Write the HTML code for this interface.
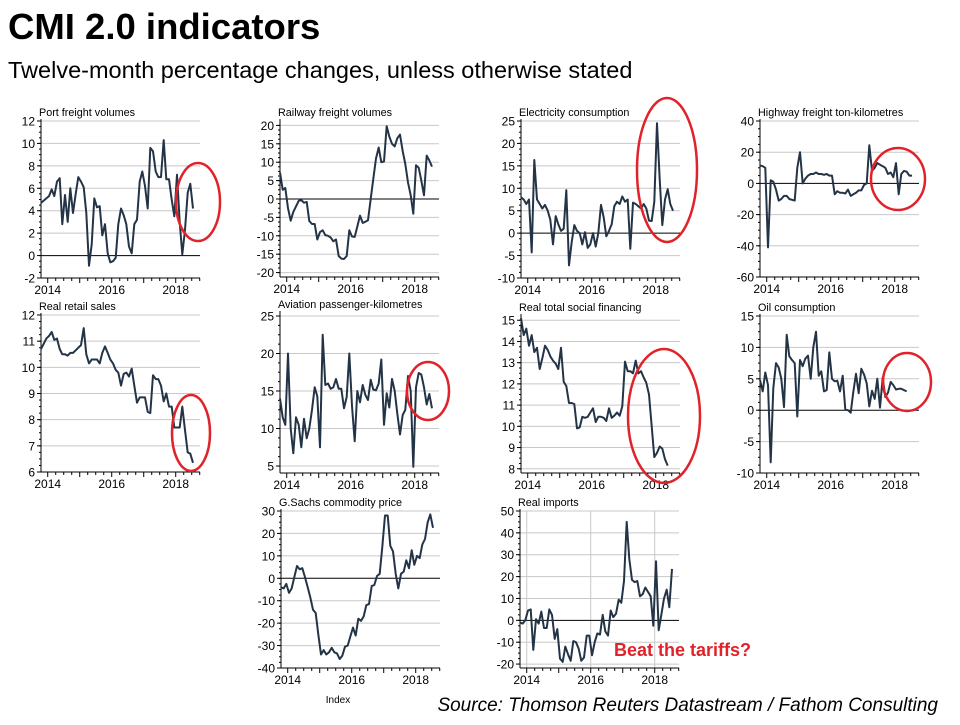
<!DOCTYPE html>
<html><head><meta charset="utf-8"><style>
body{margin:0;background:#fff;}
svg text{font-family:"Liberation Sans",sans-serif;}
</style></head><body>
<svg id="c" width="960" height="720" viewBox="0 0 960 720" xmlns="http://www.w3.org/2000/svg">
<text x="8" y="39" font-size="36.5" font-weight="bold" fill="#000">CMI 2.0 indicators</text>
<text x="8" y="78" font-size="23.5" fill="#000">Twelve-month percentage changes, unless otherwise stated</text>
<text x="938" y="711" font-size="19" font-style="italic" text-anchor="end" fill="#000">Source: Thomson Reuters Datastream / Fathom Consulting</text>
<text x="614" y="656" font-size="18" font-weight="bold" fill="#e0232a">Beat the tariffs?</text>
<text x="338" y="703" font-size="10" text-anchor="middle" fill="#000">Index</text>
</svg>
<script>
const titles=["Port freight volumes","Railway freight volumes","Electricity consumption","Highway freight ton-kilometres","Real retail sales","Aviation passenger-kilometres","Real total social financing","Oil consumption","G.Sachs commodity price","Real imports"];
const yearTicks=[2014,2016,2018];
const port=[4.7,4.9,5.1,5.3,5.9,5.3,6.6,6.9,2.8,5.4,3.0,6.0,3.8,5.5,7.0,6.6,6.1,3.8,-0.9,1.0,5.1,4.3,4.4,1.8,2.8,0.2,-0.6,-0.5,-0.2,2.8,4.2,3.6,2.8,0.8,0.2,2.8,3.2,6.6,7.5,6.2,4.2,9.6,9.3,7.5,7.0,7.0,10.3,6.8,6.8,5.0,3.5,7.2,3.0,0.1,2.3,5.6,6.4,4.2];
const rail=[7.2,2.5,3.0,-2.5,-5.9,-3.5,-2.0,-0.5,-0.3,-1.0,-0.8,-6.0,-6.8,-6.8,-11.0,-9.0,-8.5,-9.8,-10.0,-10.5,-11.5,-11.0,-15.5,-16.2,-16.3,-15.5,-8.5,-10.2,-10.3,-7.5,-4.5,-6.5,-6.2,-5.8,0,5.5,11.0,14.0,10.0,10.2,19.8,17.0,15.0,14.3,16.5,17.5,13.0,9.5,4.5,1.0,-4.0,9.2,8.5,5.0,1.0,11.8,10.5,8.8];
const elec=[8,7.5,6.5,7.5,-4.3,16.3,7.5,6.5,5.5,6.3,5.0,3.0,-2.5,3.8,2.0,0.5,1.0,9.6,-7.2,-2.0,1.8,0.5,0.0,-2.5,0.2,-3.3,-2.5,0,-3.0,0,6.3,3.5,-0.7,0.5,2.0,6.0,7.0,6.5,8.2,7.0,7.5,-3.5,6.8,6.5,6.0,5.5,6.5,5.5,2.8,2.7,7.0,24.5,12.0,1.8,7.5,9.8,6.5,5.0];
const highway=[11.5,11.0,10.0,-41,2,1,-4,-11,-10,-8,-8,-10,-10.5,-11,10,20,0,3,5,6,6,7,6,6,5.5,6,5,5,-7,-5,-6,-6,-6.5,-4,-8,-7,-6,-4.5,-4.5,-1,0,24.5,8,10,13,12,11,10,6,7,4,13,-7,6,8,7.5,5,5];
const retail=[10.7,10.9,11.1,11.2,11.35,11.05,11.1,10.7,10.5,10.5,10.45,10.55,10.55,10.65,10.75,10.85,11.5,10.5,10.15,10.3,10.3,10.3,10.15,10.55,10.8,10.55,10.3,10.15,9.9,9.8,9.3,9.75,9.8,9.65,9.95,9.3,8.65,8.85,8.85,8.85,8.3,8.25,9.7,9.55,9.55,9.3,8.7,9.0,8.5,8.5,7.7,7.7,7.7,8.5,7.6,6.75,6.7,6.35];
const aviation=[14,11.5,10.5,20,10,6.7,11.5,10.5,7.5,11.3,8.7,10,12.5,15.5,14.3,7.5,22.5,15.8,16,15.3,15.5,16.6,15.3,15.3,12.7,14.2,20,13,8.3,15,13.5,15.8,14.5,13.8,16.5,15.2,15.1,16,19.2,10.5,14.7,12.8,16.6,15,12,9.2,11.8,12.5,17,15,4.9,15.5,17.4,17.2,15.5,13.2,14.6,12.7];
const tsf=[15.1,14.3,14.6,13.8,14.3,13.5,13.7,12.7,13.2,13.8,13.6,13.3,13.1,12.95,12.7,13.7,12.1,11.9,11.1,11.1,11.05,9.9,9.95,10.45,10.4,10.45,10.65,10.85,10.2,10.45,10.45,10.4,10.25,10.85,10.4,10.5,10.65,10.5,10.95,13.05,12.6,12.6,12.5,13.1,12.5,12.6,12.3,12.05,11.5,10.0,8.55,8.75,9.05,8.95,8.45,8.15];
const oil=[4.8,3,6,4,-8.3,3.5,7.5,6.8,5,0.5,12,8.6,8,7.5,-1,8,7,8.2,8.7,5,10,12.5,5.5,6.2,3,3.2,9.2,5,4.6,4.7,3,5.5,0.1,0,-0.4,2.9,5.8,2.7,6.6,5.7,4.3,0.6,3.1,1.8,5,0.4,5.2,2.1,2.8,4.5,4,3.3,3.4,3.4,3.2,3.0];
const gsci=[-4,-4.5,-2.5,-6.5,-4.5,0.5,5.5,4,4.5,0.5,-4,-8.5,-14,-15.5,-25,-34,-32,-34,-33,-31,-33,-33.5,-36,-34.5,-30.5,-30,-26,-22,-25.5,-18,-19,-17,-12,-11.5,-3.5,-3,1,2,14,28,28,14.5,12,2,-4.5,2,3,8,4.5,12.5,6,10,9,15,17.5,25,28.5,22.5];
const imports=[-1,-1.5,0,4.5,5,-13.5,0.5,-1.5,4,-3.5,-3.5,5,2.5,-8.5,-4,-17.5,-19,-12,-15.5,-18.5,-9.5,-10,-13,-18.5,-17,-7,-7,-16,-10,-6,-6.5,2.5,-5,-7,4.5,1.5,3,9.5,8,18,45,28,18.5,17.5,18,11,12,15,13,11,-2.5,27,-4.5,2.5,10,14,6,23.5];
const series=[port,rail,elec,highway,retail,aviation,tsf,oil,gsci,imports];
const yTickSets=[[-2,0,2,4,6,8,10,12],[-20,-15,-10,-5,0,5,10,15,20],[-10,-5,0,5,10,15,20,25],[-60,-40,-20,0,20,40],[6,7,8,9,10,11,12],[5,10,15,20,25],[8,9,10,11,12,13,14,15],[-10,-5,0,5,10,15],[-40,-30,-20,-10,0,10,20,30],[-20,-10,0,10,20,30,40,50]];
const yMins=[-2,-21.2,-10,-60,6,4.07,7.8,-10,-40,-21.8];
const yMaxs=[12,21.2,25,40,12,25.4,15.2,15,30,50];
// layout (not data)
const L=[[41,121,278],[280,121,277],[521,121,278],[760,121,277],[41,315,472],[280,313,473],[521,316,473],[760,316,473],[281,511,668],[520,511,668]];
const ellipses=[[198,202,22,39],null,[667,170,30,72],[898,179,27,31],[191,433,19,38],[428,391,21,29],[664,416,36,67],[907,382,24,29],null,null];
const NS="http://www.w3.org/2000/svg";
const svg=document.getElementById('c');
function mk(t,a,p){const e=document.createElementNS(NS,t);for(const k in a)e.setAttribute(k,a[k]);(p||svg).appendChild(e);return e;}
const W=159,T0=2013.79,PX=32;
series.forEach((data,p)=>{
  const [x0,top,bot]=L[p];
  const g=mk('g',{});
  
  
  const xs=t=>x0+(t-T0)*PX;
  const ys=v=>bot-(v-yMins[p])/(yMaxs[p]-yMins[p])*(bot-top);
  const tt=mk('text',{x:x0-2,y:top-5,'font-size':10.8,fill:'#000'},g);tt.textContent=titles[p];
  
  
  if(p===9){yearTicks.forEach(y=>mk('line',{x1:xs(y),x2:xs(y),y1:top,y2:bot,stroke:'#c8c8c8','stroke-width':1},g));}
  yTickSets[p].forEach(v=>{
    const y=ys(v);
    mk('line',{x1:x0,x2:x0+W,y1:y,y2:y,stroke:v===0?'#000':'#c8c8c8','stroke-width':1},g);
    mk('line',{x1:x0-4,x2:x0,y1:y,y2:y,stroke:'#000'},g);
    const lb=mk('text',{x:x0-6,y:y+4.5,'font-size':12,'text-anchor':'end',fill:'#000'},g);lb.textContent=v;
    
    
  });
  const tk=yTickSets[p],st=(tk[1]-tk[0])/4;
  for(let v=tk[0];v<=tk[tk.length-1];v+=st){const y=ys(v);if(y>=top-1&&y<=bot+1)mk('line',{x1:x0-2,x2:x0,y1:y,y2:y,stroke:'#000'},g);}
  mk('line',{x1:x0,x2:x0,y1:top-2,y2:bot,stroke:'#000'},g);
  mk('line',{x1:x0,x2:x0+W,y1:bot,y2:bot,stroke:'#000'},g);
  for(let t=2014;t<=2018.75;t+=0.25){const x=xs(t);mk('line',{x1:x,x2:x,y1:bot,y2:bot+(Number.isInteger(t)?5:3),stroke:'#000'},g);}
  yearTicks.forEach(y=>{const lb=mk('text',{x:xs(y),y:bot+16,'font-size':12,'text-anchor':'middle',fill:'#000'},g);lb.textContent=y;
    
    });
  const pts=data.map((v,i)=>xs(T0+i/12).toFixed(1)+','+ys(v).toFixed(1)).join(' ');
  const ln=mk('polyline',{points:pts,fill:'none',stroke:'#243447','stroke-width':2,'stroke-linejoin':'round'},g);
  
  
  const e=ellipses[p];
  if(e){const el=mk('ellipse',{cx:e[0],cy:e[1],rx:e[2],ry:e[3],fill:'none',stroke:'#e0232a','stroke-width':2.5},g);
    
    }
});
</script>
</body></html>
